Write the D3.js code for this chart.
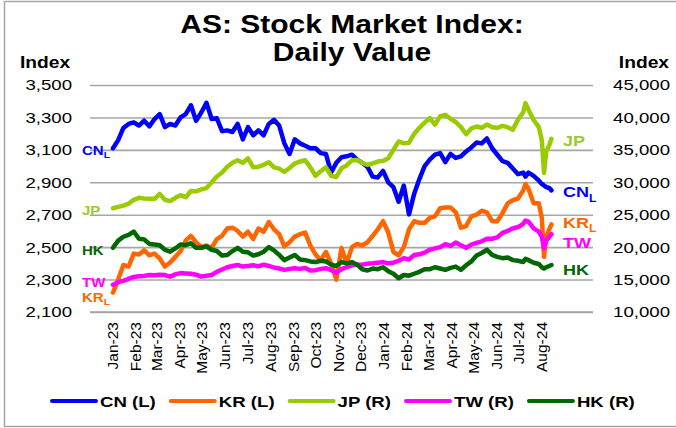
<!DOCTYPE html>
<html>
<head>
<meta charset="utf-8">
<script src="https://cdn.jsdelivr.net/npm/d3@7"></script>
<style>
  html, body { margin: 0; padding: 0; background: #fff; }
  svg { display: block; font-family: "Liberation Sans", Arial, sans-serif; }
</style>
</head>
<body>
<svg id="chart" width="676" height="428"></svg>
<script>
// ---- Data: weekly closes (Mondays) plus a few extra sessions around July/August 2024 ----
const dates = [
  "2023-01-02","2023-01-09","2023-01-16","2023-01-23","2023-01-30",
  "2023-02-06","2023-02-13","2023-02-20","2023-02-27",
  "2023-03-06","2023-03-13","2023-03-20","2023-03-27",
  "2023-04-03","2023-04-10","2023-04-17","2023-04-24",
  "2023-05-01","2023-05-08","2023-05-15","2023-05-22","2023-05-29",
  "2023-06-05","2023-06-12","2023-06-19","2023-06-26",
  "2023-07-03","2023-07-10","2023-07-17","2023-07-24","2023-07-31",
  "2023-08-07","2023-08-14","2023-08-21","2023-08-28",
  "2023-09-04","2023-09-11","2023-09-18","2023-09-25",
  "2023-10-02","2023-10-09","2023-10-16","2023-10-23","2023-10-30",
  "2023-11-06","2023-11-13","2023-11-20","2023-11-27",
  "2023-12-04","2023-12-11","2023-12-18","2023-12-25",
  "2024-01-01","2024-01-08","2024-01-15","2024-01-22","2024-01-29",
  "2024-02-05","2024-02-12","2024-02-19","2024-02-26",
  "2024-03-04","2024-03-11","2024-03-18","2024-03-25",
  "2024-04-01","2024-04-08","2024-04-15","2024-04-22","2024-04-29",
  "2024-05-06","2024-05-13","2024-05-20","2024-05-27",
  "2024-06-03","2024-06-10","2024-06-17","2024-06-24",
  "2024-07-01","2024-07-08","2024-07-11","2024-07-15","2024-07-22","2024-07-29",
  "2024-08-02","2024-08-05","2024-08-08","2024-08-12","2024-08-15"
];

// Left axis series
const cn = [
  3110,3160,3235,3260,3270, 3250,3280,3245,3290, 3320,3240,3260,3250,
  3300,3320,3375,3280, 3330,3390,3290,3295,3215, 3220,3210,3260,3165,
  3240,3190,3220,3190,3260, 3285,3250,3140,3075, 3165,3140,3125,3110,
  3110,3080,3075,2960,3020, 3055,3060,3070,3040, 3020,2995,2935,2930,
  2970,2900,2870,2780,2880, 2702,2830,2920,3000, 3040,3070,3080,3025,
  3075,3050,3060,3090,3115, 3145,3140,3170,3110, 3070,3030,3020,2985,
  2950,2960,2935,2960,2940,2910, 2890,2880,2870,2865,2850
];
const kr = [
  2220,2300,2390,2380,2460, 2455,2480,2450,2460, 2430,2380,2405,2440,
  2475,2540,2570,2530, 2500,2510,2495,2550,2570, 2615,2620,2600,2565,
  2595,2550,2615,2595,2655, 2610,2580,2505,2530, 2565,2580,2590,2510,
  2455,2420,2470,2400,2300, 2495,2400,2500,2520, 2510,2530,2570,2610,
  2660,2590,2470,2450,2500, 2610,2660,2650,2650, 2680,2690,2740,2745,
  2745,2715,2620,2630,2690, 2700,2725,2715,2660, 2660,2710,2770,2790,
  2800,2850,2890,2860,2770,2770, 2680,2440,2560,2610,2640
];

// Right axis series
const jp = [
  26000,26200,26400,26700,27300, 27600,27500,27450,27450, 28200,27300,27100,27600,
  28000,27700,28650,28600, 28900,29100,30000,30900,31500, 32400,33000,33400,33000,
  33700,32300,32400,32700,33100, 32300,32100,31600,32200, 32900,33200,33400,32300,
  31000,31700,32300,31000,30800, 32200,32600,33400,33450, 33000,32700,32900,33200,
  33300,33700,35000,36300,36000, 36100,37500,38400,39200, 39900,38900,40200,40400,
  39800,39300,38500,37400,38300, 38600,38400,38900,38500, 38400,38700,38500,38100,
  39700,40800,42200,41200,39600,38500, 36500,31450,34800,35700,36700
];
const tw = [
  14200,14600,14800,15100,15400, 15500,15550,15700,15650, 15750,15700,15450,15800,
  16000,15950,15900,15750, 15450,15600,15700,16200,16550, 16900,17100,17250,17000,
  17100,17200,17050,17300,17100, 16850,16700,16500,16650, 16750,16650,16800,16400,
  16450,16650,16750,16450,16050, 16600,16900,17200,17300, 17300,17450,17500,17600,
  17700,17500,17600,17900,18300, 18100,18800,18900,19150, 19600,19800,20000,20450,
  20200,20700,20300,19900,20400, 20650,20900,21300,21300, 21500,22200,22500,22900,
  23100,23600,24100,23950,22900,22400, 21600,19850,21000,21600,22000
];
const hk = [
  19900,21000,21600,21900,22400, 21300,21200,20500,20400, 20300,19600,19300,19800,
  20400,20300,20600,19900, 19900,20100,19600,19400,18700, 18800,19400,19900,19300,
  19200,18700,18900,19300,20000, 19500,18800,18000,18400, 18800,18100,18000,17800,
  17700,17900,17800,17300,17100, 17700,17500,17700,17300, 16600,16400,16700,16600,
  16900,16300,15900,15200,15700, 15600,15900,16200,16600, 16600,16900,16700,16500,
  16800,17000,16500,17200,17800, 18700,19100,19600,18800, 18500,18300,18400,18000,
  17900,17700,18200,18000,17600,17400, 16900,16700,16900,17100,17250
];

const leftTicks  = [2100, 2300, 2500, 2700, 2900, 3100, 3300, 3500];
const rightTicks = [10000, 15000, 20000, 25000, 30000, 35000, 40000, 45000];
const monthTicks = ["2023-01","2023-02","2023-03","2023-04","2023-05","2023-06","2023-07",
  "2023-08","2023-09","2023-10","2023-11","2023-12","2024-01","2024-02","2024-03",
  "2024-04","2024-05","2024-06","2024-07","2024-08"];

const seriesNames = ["CN", "KR", "JP", "TW", "HK"];
const legendLabels = ["CN (L)", "KR (L)", "JP (R)", "TW (R)", "HK (R)"];

// ---- Styling / layout ----
const colors = { CN: "#0000ff", KR: "#ff6600", JP: "#99cc00", TW: "#ff00ff", HK: "#006600" };
const labelColors = { CN: "#0000ff", KR: "#ff6600", JP: "#99cc33", TW: "#ff00ff", HK: "#006600" };
const plot = { left: 90, right: 593, top: 85, bottom: 312 };
const WIDEN = 1.2;   // horizontal text stretch

const parse = d3.timeParse("%Y-%m-%d");
const parseMonth = d3.timeParse("%Y-%m");
const dateObjs = dates.map(parse);

const svg = d3.select("#chart");

// frame
svg.append("rect")
  .attr("x", 4.5).attr("y", 1.5).attr("width", 680).attr("height", 425)
  .attr("fill", "none").attr("stroke", "#a6a6a6").attr("stroke-width", 1.5);

// scales
const x = d3.scaleTime()
  .domain([new Date(2022, 11, 2), new Date(2024, 9, 10)])
  .range([plot.left, plot.right]);
const yL = d3.scaleLinear().domain([2100, 3500]).range([plot.bottom, plot.top]);
const yR = d3.scaleLinear().domain([10000, 45000]).range([plot.bottom, plot.top]);

function widen(sel, k = WIDEN) {
  sel.each(function () {
    const w = this.getComputedTextLength();
    this.setAttribute("textLength", w * k);
    this.setAttribute("lengthAdjust", "spacingAndGlyphs");
  });
}

// gridlines (via axis with long inward ticks)
const grid = svg.append("g")
  .attr("transform", `translate(${plot.left},0)`)
  .call(d3.axisLeft(yL).tickValues(leftTicks).tickSize(-(plot.right - plot.left)).tickFormat(""));
grid.select(".domain").remove();
grid.selectAll("line").attr("stroke", "#a6a6a6").attr("stroke-width", 1.6);

// left axis labels
const gL = svg.append("g")
  .attr("transform", "translate(72,0)")
  .call(d3.axisLeft(yL).tickValues(leftTicks).tickSize(0).tickPadding(0).tickFormat(d3.format(",")));
gL.select(".domain").remove();
gL.selectAll("text").attr("font-size", 15.5).attr("fill", "#000").attr("font-family", null);

// right axis labels
const gR = svg.append("g")
  .attr("transform", "translate(670,0)")
  .call(d3.axisLeft(yR).tickValues(rightTicks).tickSize(0).tickPadding(0).tickFormat(d3.format(",")));
gR.select(".domain").remove();
gR.selectAll("text").attr("font-size", 15.5).attr("fill", "#000").attr("font-family", null);

// x axis
const gX = svg.append("g")
  .attr("transform", `translate(0,${plot.bottom})`)
  .call(d3.axisBottom(x).tickValues(monthTicks.map(parseMonth)).tickSize(0).tickFormat(d3.timeFormat("%b-%y")));
gX.select(".domain")
  .attr("d", `M${plot.left},0H${plot.right}`)
  .attr("stroke", "#a6a6a6").attr("stroke-width", 1.6);
gX.selectAll("text")
  .attr("font-size", 15.5).attr("fill", "#000").attr("font-family", null)
  .attr("transform", "rotate(-90)")
  .attr("text-anchor", "end")
  .attr("x", -10).attr("y", 0).attr("dy", "0.36em");

// series lines (left-axis series first, right-axis series drawn on top)
const seriesData = { CN: cn, KR: kr, JP: jp, TW: tw, HK: hk };
const seriesAxis = { CN: yL, KR: yL, JP: yR, TW: yR, HK: yR };
seriesNames.forEach(name => {
  const yScale = seriesAxis[name];
  const line = d3.line()
    .x((d, i) => x(dateObjs[i]))
    .y(d => yScale(d))
    .curve(d3.curveLinear);
  svg.append("path")
    .datum(seriesData[name])
    .attr("d", line)
    .attr("fill", "none")
    .attr("stroke", colors[name])
    .attr("stroke-width", 4.5)
    .attr("stroke-linejoin", "round")
    .attr("stroke-linecap", "round");
});

// title
const title = svg.append("g").attr("font-weight", "bold").attr("font-size", 25).attr("text-anchor", "middle");
title.append("text").attr("x", 352).attr("y", 33).text("AS: Stock Market Index:");
title.append("text").attr("x", 352).attr("y", 61).text("Daily Value");
widen(title.selectAll("text"));

// axis titles
svg.append("text").attr("class", "axt").attr("x", 20).attr("y", 68)
  .attr("font-weight", "bold").attr("font-size", 16).text("Index");
svg.append("text").attr("class", "axt").attr("x", 669).attr("y", 68).attr("text-anchor", "end")
  .attr("font-weight", "bold").attr("font-size", 16).text("Index");
widen(svg.selectAll("text.axt"));

widen(gL.selectAll("text"));
widen(gR.selectAll("text"));

// inline series tags
function tag(xPos, yPos, name, size, sub) {
  const t = svg.append("text")
    .attr("x", xPos).attr("y", yPos)
    .attr("font-weight", "bold").attr("font-size", size)
    .attr("fill", labelColors[name]);
  t.append("tspan").text(name);
  if (sub) t.append("tspan").attr("font-size", size * 0.68).attr("dy", size * 0.3).text("L");
  widen(t);
}
// left edge
tag(82, 154.5, "CN", 12.5, true);
tag(82, 214.5, "JP", 12.5, false);
tag(82, 254.5, "HK", 12.5, false);
tag(82, 286.5, "TW", 12.5, false);
tag(82, 301.5, "KR", 12.5, true);
// right edge
tag(563, 145.5, "JP", 15, false);
tag(563, 197, "CN", 15, true);
tag(563, 227.5, "KR", 15, true);
tag(563, 247.5, "TW", 15, false);
tag(563, 274.5, "HK", 15, false);

// legend
const legend = svg.append("g");
let lx = 52;
const ly = 401;
seriesNames.forEach((name, i) => {
  legend.append("line")
    .attr("x1", lx).attr("x2", lx + 44).attr("y1", ly).attr("y2", ly)
    .attr("stroke", colors[name]).attr("stroke-width", 4).attr("stroke-linecap", "round");
  const t = legend.append("text")
    .attr("x", lx + 48).attr("y", ly).attr("dy", "0.36em")
    .attr("font-weight", "bold").attr("font-size", 15.5).attr("fill", "#000")
    .text(legendLabels[i]);
  const w = t.node().getComputedTextLength() * WIDEN;
  t.attr("textLength", w).attr("lengthAdjust", "spacingAndGlyphs");
  lx = lx + 48 + w + 15;
});
</script>
</body>
</html>
